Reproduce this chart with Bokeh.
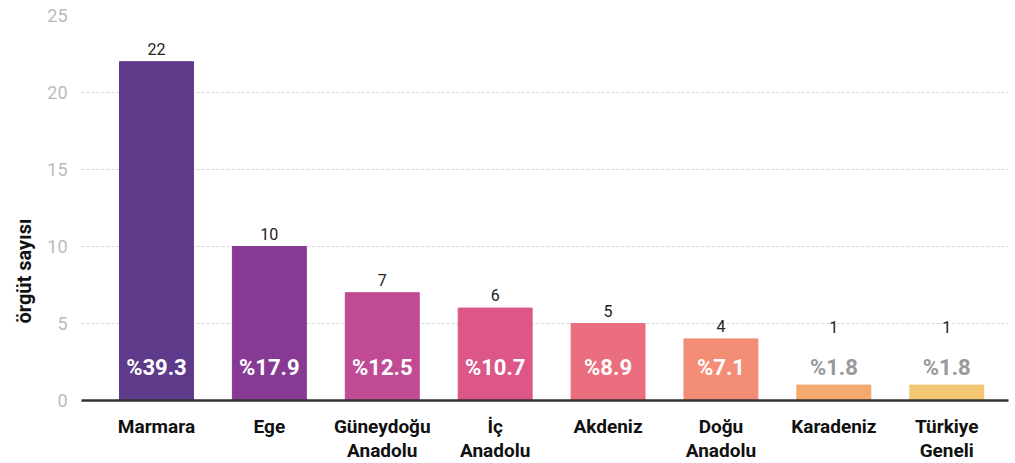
from bokeh.plotting import figure
from bokeh.models import ColumnDataSource, FixedTicker, Range1d, Title
from bokeh.core.properties import value
from bokeh.embed import file_html
from bokeh.resources import INLINE

categories = ["Marmara", "Ege", "Güneydoğu\nAnadolu", "İç\nAnadolu", "Akdeniz",
              "Doğu\nAnadolu", "Karadeniz", "Türkiye\nGeneli"]
counts = [22, 10, 7, 6, 5, 4, 1, 1]
percents = ["%39.3", "%17.9", "%12.5", "%10.7", "%8.9", "%7.1", "%1.8", "%1.8"]
colors = ["#5D3A8A", "#873A93", "#C04A93", "#DC5688", "#EA6E7E", "#F48D76", "#F4AA6F", "#F2C673"]
pct_colors = ["#FFFFFF"] * 6 + ["#999999", "#999999"]

xs = list(range(len(categories)))
# count labels sit above the bar, or above the percentage label for very short bars
cnt_y = [max(c, 3.9) for c in counts]
src = ColumnDataSource(dict(x=xs, top=counts, color=colors, pct=percents,
                            pct_color=pct_colors, cnt=[str(c) for c in counts],
                            cnt_y=cnt_y, zero=[0] * len(xs)))

p = figure(frame_width=927, frame_height=385, output_backend="svg", toolbar_location=None,
           x_range=Range1d(-0.664, 7.547), y_range=Range1d(0, 25),
           min_border_left=80, min_border_right=2, min_border_top=15, min_border_bottom=2)
p.outline_line_color = None
p.background_fill_color = "white"
p.border_fill_color = "white"

p.vbar(x="x", top="top", width=0.655, color="color", source=src)

p.text(x="x", y="cnt_y", text="cnt", source=src, text_align="center", text_baseline="bottom",
       y_offset=-7, text_font_size="16px", text_color="#222222", text_font=value("Roboto"))
p.text(x="x", y="zero", text="pct", source=src, text_align="center", text_baseline="middle",
       y_offset=-33, text_font_size="22px", text_font_style="bold", text_color="pct_color",
       text_font=value("Roboto"))

p.xaxis.ticker = FixedTicker(ticks=xs)
p.xaxis.major_label_overrides = {i: c for i, c in enumerate(categories)}
p.xaxis.major_tick_line_color = None
p.xaxis.minor_tick_line_color = None
p.xaxis.axis_line_color = "#333333"
p.xaxis.axis_line_width = 2.5
p.xaxis.major_label_text_font = "Roboto"
p.xaxis.major_label_text_font_style = "bold"
p.xaxis.major_label_text_font_size = "19px"
p.xaxis.major_label_text_line_height = 1.05
p.xaxis.major_label_text_color = "#111111"
p.xaxis.major_label_standoff = 8
p.xgrid.grid_line_color = None

p.yaxis.ticker = FixedTicker(ticks=[0, 5, 10, 15, 20, 25])
p.yaxis.axis_line_color = None
p.yaxis.major_tick_line_color = None
p.yaxis.minor_tick_line_color = None
p.yaxis.major_label_text_color = "#BBBBBB"
p.yaxis.major_label_text_font = "Roboto"
p.yaxis.major_label_text_font_size = "18px"
p.yaxis.major_label_standoff = 8
p.ygrid.grid_line_color = "#CCCCCC"
p.ygrid.grid_line_dash = "3 2"
p.ygrid.grid_line_width = 0.8

p.add_layout(Title(text="örgüt sayısı", align="left", offset=77,
                   text_font="Roboto", text_font_style="bold", text_font_size="20px",
                   text_color="#111111", standoff=18), "left")

open("out.html", "w").write(file_html(p, INLINE))
